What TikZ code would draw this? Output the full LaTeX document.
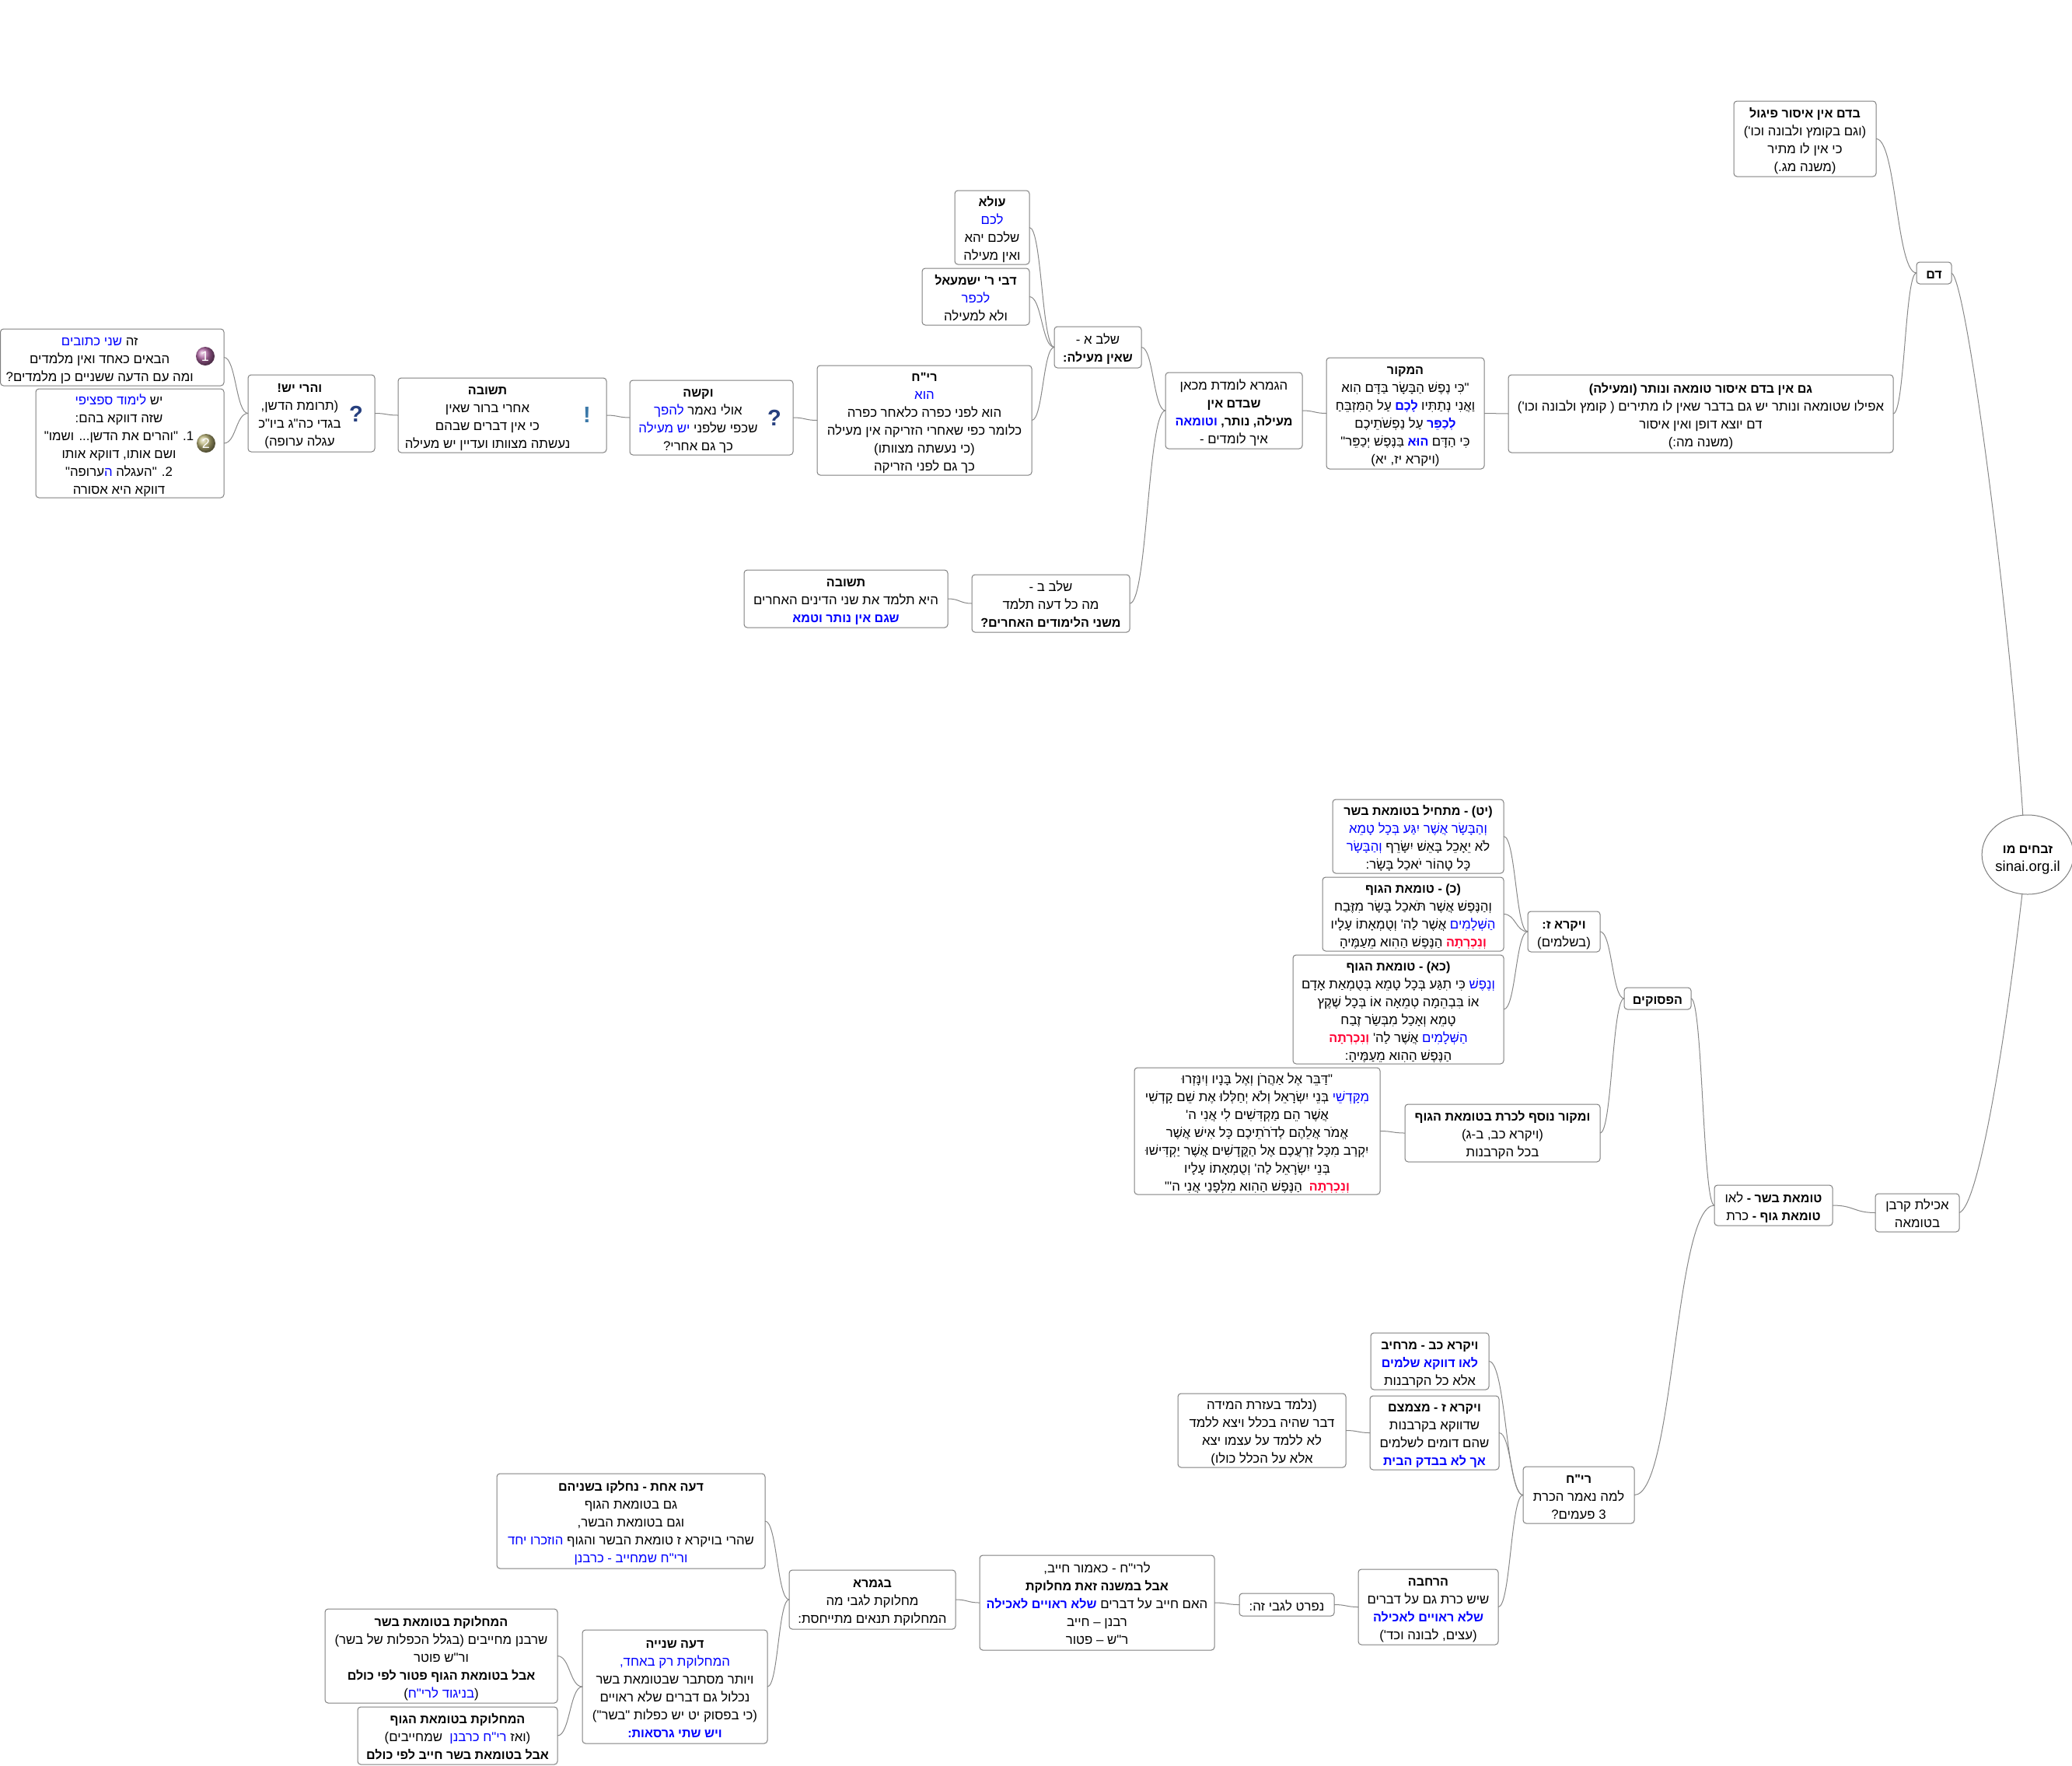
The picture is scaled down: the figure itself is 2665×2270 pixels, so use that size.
\documentclass[tikz,border=0pt]{standalone}
\usepackage{fontspec}
\usetikzlibrary{calc,shapes.geometric}
\TeXXeTstate=1
\setmainfont{Liberation Sans}
\newfontfamily\hebfont[Script=Hebrew]{Liberation Sans}
\definecolor{boxgray}{HTML}{7F7F7F}
\definecolor{linkgray}{HTML}{888888}
\definecolor{hblue}{HTML}{0000FF}
\definecolor{hred}{HTML}{FF0033}
\definecolor{dotone}{RGB}{178,104,166}
\definecolor{dottwo}{RGB}{186,180,120}
\definecolor{quesblue}{HTML}{27407F}
\definecolor{exclblue}{HTML}{3A78A8}
% text is written in visual order (left to right), one segment per colour
\newcommand{\boldsz}{\fontsize{16.1}{23}\selectfont\bfseries}
\newcommand{\hTr}[1]{\beginR#1\endR}
\newcommand{\hTb}[1]{\beginR{\boldsz#1}\endR}
\newcommand{\hBr}[1]{{\color{hblue}\beginR#1\endR}}
\newcommand{\hBb}[1]{{\color{hblue}\beginR{\boldsz#1}\endR}}
\newcommand{\hRb}[1]{{\color{hred}\beginR{\boldsz#1}\endR}}
\newcommand{\tx}[2][3]{\raisebox{-#1pt}[\height][\depth]{\begin{tabular}{@{}c@{}}#2\end{tabular}}}
\newcommand{\leftshifted}[2]{\tx{#2}\kern#1pt}
\tikzset{
  bx/.style n args={4}{draw=boxgray, line width=1pt, fill=white, rounded corners=4pt,
    inner sep=0pt, outer sep=0pt, text=black,
    font=\hebfont\fontsize{16.8}{23}\selectfont,
    minimum width={(#3-#1)*1pt}, minimum height={(#4-#2)*1pt},
    at={({(#1+#3)/2},{(#2+#4)/2})}},
  linkline/.style={draw=linkgray, line width=1pt},
  link/.style={linkline, to path={let \p1=(\tikztostart),\p2=(\tikztotarget) in
    .. controls ({(\x1+\x2)/2},\y1) and ({(\x1+\x2)/2},\y2) .. (\p2)}},
  numdot/.style={circle, shade, inner sep=0pt, minimum size=24pt, text=white,
    font=\fontsize{18}{18}\selectfont},
  mark sign/.style={inner sep=0pt, font=\fontsize{29}{29}\bfseries\selectfont}
}
\begin{document}
\begin{tikzpicture}[x=1pt,y=-1pt]
\path[use as bounding box] (0,0) rectangle (2665,2270);

% root
\node[bx={2552}{1048}{2664}{1150}, ellipse, rounded corners=0pt] (root)
  {\tx[5]{\hTb{זבחים מו}\\ {\fontsize{18.5}{23}\selectfont sinai.org.il}}};

% upper branch
\node[bx={2465}{337}{2510}{365}] (dam) {\tx{\hTb{דם}}};
\node[bx={2230}{130}{2413}{227}] (badam)
  {\tx{\hTb{בדם אין איסור פיגול}\\ \hTr{(וגם בקומץ ולבונה וכו')}\\ \hTr{כי אין לו מתיר}\\ \hTr{(משנה מג.)}}};
\node[bx={1940}{482}{2435}{582}] (gam)
  {\tx{\hTb{גם אין בדם איסור טומאה ונותר (ומעילה)}\\ \hTr{אפילו שטומאה ונותר יש גם בדבר שאין לו מתירים ( קומץ ולבונה וכו')}\\ \hTr{דם יוצא דופן ואין איסור}\\ \hTr{(משנה מה:)}}};
\node[bx={1706}{460}{1909}{603}] (makor)
  {\tx{\hTb{המקור}\\
   \hTr{"כִּי נֶפֶשׁ הַבָּשָׂר בַּדָּם הִוא}\\
   \hTr{עַל הַמִּזְבֵּחַ}\hBb{ לָכֶם }\hTr{וַאֲנִי נְתַתִּיו}\\
   \hTr{עַל נַפְשֹׁתֵיכֶם}\hBb{לְכַפֵּר }\\
   \hTr{בַּנֶּפֶשׁ יְכַפֵּר"}\hBb{ הוּא }\hTr{כִּי הַדָּם}\\
   \hTr{(ויקרא יז, יא)}}};
\node[bx={1499}{479}{1675}{577}] (gemara)
  {\tx{\hTr{הגמרא לומדת מכאן}\\ \hTb{שבדם אין}\\ \hBb{וטומאה}\hTb{מעילה, נותר, }\\ \hTr{איך לומדים -}}};
\node[bx={1356}{420}{1468}{473}] (shlava) {\tx{\hTr{שלב א -}\\ \hTb{שאין מעילה:}}};
\node[bx={1250}{739}{1453}{813}] (shlavb)
  {\tx{\hTr{שלב ב -}\\ \hTr{מה כל דעה תלמד}\\ \hTb{משני הלימודים האחרים?}}};
\node[bx={957}{733}{1219}{807}] (tshuvab)
  {\tx{\hTb{תשובה}\\ \hTr{היא תלמד את שני הדינים האחרים}\\ \hBb{שגם אין נותר וטמא}}};
\node[bx={1228}{245}{1324}{340}] (ula)
  {\tx{\hTb{עולא}\\ \hBr{לכם}\\ \hTr{שלכם יהא}\\ \hTr{ואין מעילה}}};
\node[bx={1186}{345}{1324}{418}] (dvei)
  {\tx{\hTb{דבי ר' ישמעאל}\\ \hBr{לכפר}\\ \hTr{ולא למעילה}}};
\node[bx={1051}{470}{1327}{611}] (richa)
  {\tx{\hTb{רי"ח}\\ \hBr{הוא}\\ \hTr{הוא לפני כפרה כלאחר כפרה}\\ \hTr{כלומר כפי שאחרי הזריקה אין מעילה}\\ \hTr{(כי נעשתה מצוותו)}\\ \hTr{כך גם לפני הזריקה}}};
\node[bx={810}{489}{1020}{585}] (kashe)
  {\leftshifted{34}{\hTb{וקשה}\\ \hBr{להפך}\hTr{אולי נאמר }\\ \hBr{יש מעילה}\hTr{שכפי שלפני }\\ \hTr{כך גם אחרי?}}};
\node[bx={512}{486}{780}{582}] (tshuvaa)
  {\leftshifted{38}{\hTb{תשובה}\\ \hTr{אחרי ברור שאין}\\ \hTr{כי אין דברים שבהם}\\ \hTr{נעשתה מצוותו ועדיין יש מעילה}}};
\node[bx={319}{482}{482}{581}] (harei)
  {\leftshifted{30}{\hTb{והרי יש!}\\ \hTr{(תרומת הדשן,}\\ \hTr{בגדי כה"ג ביו"כ}\\ \hTr{עגלה ערופה)}}};
\node[bx={0.5}{423}{288}{496}] (one)
  {\leftshifted{32}{\hBr{שני כתובים}\hTr{זה }\\ \hTr{הבאים כאחד ואין מלמדים}\\ \hTr{ומה עם הדעה ששניים כן מלמדים?}}};
\node[bx={46}{500}{288}{640}] (two)
  {\leftshifted{28}{\hBr{לימוד ספציפי}\hTr{יש }\\ \hTr{שזה דווקא בהם:}\\ \hTr{1. "והרים את הדשן... ושמו"}\\ \hTr{ושם אותו, דווקא אותו}\\ \hTr{ערופה"}\hBr{ה}\hTr{2. "העגלה }\\ \hTr{דווקא היא אסורה}}};

% icons
\node[numdot, ball color=dotone] (icona) at (264,458) {1};
\node[numdot, ball color=dottwo] (iconb) at (265,570) {2};
\node[mark sign, text=quesblue] (iconq) at (458,532) {?};
\node[mark sign, text=quesblue] (iconk) at (996,537) {?};
\node[mark sign, text=exclblue] (icone) at (755,534) {!};

% lower branch
\node[bx={2412}{1535}{2520}{1584}] (akilat) {\tx{\hTr{אכילת קרבן}\\ \hTr{בטומאה}}};
\node[bx={2205}{1524}{2357}{1576}] (tum)
  {\tx{\hTr{לאו}\hTb{טומאת בשר - }\\ \hTr{כרת}\hTb{טומאת גוף - }}};
\node[bx={2089}{1270}{2175}{1298}] (psukim) {\tx{\hTb{הפסוקים}}};
\node[bx={1965}{1172}{2058}{1224}] (vayikra) {\tx{\hTb{ויקרא ז:}\\ \hTr{(בשלמים)}}};
\node[bx={1714}{1028}{1934}{1123}] (yt)
  {\tx{\hTb{(יט) - מתחיל בטומאת בשר}\\
   \hBr{וְהַבָּשָׂר אֲשֶׁר יִגַּע בְּכָל טָמֵא}\\
   \hBr{וְהַבָּשָׂר}\hTr{לֹא יֵאָכֵל בָּאֵשׁ יִשָּׂרֵף }\\
   \hTr{כָּל טָהוֹר יֹאכַל בָּשָׂר:}}};
\node[bx={1701}{1128}{1934}{1223}] (kaf)
  {\tx{\hTb{(כ) - טומאת הגוף}\\
   \hTr{וְהַנֶּפֶשׁ אֲשֶׁר תֹּאכַל בָּשָׂר מִזֶּבַח}\\
   \hTr{אֲשֶׁר לַה' וְטֻמְאָתוֹ עָלָיו}\hBr{הַשְּׁלָמִים }\\
   \hTr{הַנֶּפֶשׁ הַהִוא מֵעַמֶּיהָ}\hRb{וְנִכְרְתָה }}};
\node[bx={1663}{1228}{1934}{1368}] (kaa)
  {\tx{\hTb{(כא) - טומאת הגוף}\\
   \hTr{כִּי תִגַּע בְּכָל טָמֵא בְּטֻמְאַת אָדָם}\hBr{וְנֶפֶשׁ }\\
   \hTr{אוֹ בִּבְהֵמָה טְמֵאָה אוֹ בְּכָל שֶׁקֶץ}\\
   \hTr{טָמֵא וְאָכַל מִבְּשַׂר זֶבַח}\\
   \hRb{וְנִכְרְתָה}\hTr{ אֲשֶׁר לַה' }\hBr{הַשְּׁלָמִים}\\
   \hTr{הַנֶּפֶשׁ הַהִוא מֵעַמֶּיהָ:}}};
\node[bx={1807}{1420}{2058}{1494}] (umakor)
  {\tx{\hTb{ומקור נוסף לכרת בטומאת הגוף}\\ \hTr{(ויקרא כב, ב-ג)}\\ \hTr{בכל הקרבנות}}};
\node[bx={1459}{1373}{1775}{1536}] (daber)
  {\tx{\hTr{"דַּבֵּר אֶל אַהֲרֹן וְאֶל בָּנָיו וְיִנָּזְרוּ}\\
   \hTr{בְּנֵי יִשְׂרָאֵל וְלֹא יְחַלְּלוּ אֶת שֵׁם קָדְשִׁי}\hBr{מִקָּדְשֵׁי }\\
   \hTr{אֲשֶׁר הֵם מַקְדִּשִׁים לִי אֲנִי ה'}\\
   \hTr{אֱמֹר אֲלֵהֶם לְדֹרֹתֵיכֶם כָּל אִישׁ אֲשֶׁר}\\
   \hTr{יִקְרַב מִכָּל זַרְעֲכֶם אֶל הַקֳּדָשִׁים אֲשֶׁר יַקְדִּישׁוּ}\\
   \hTr{בְּנֵי יִשְׂרָאֵל לַה' וְטֻמְאָתוֹ עָלָיו}\\
   \hTr{הַנֶּפֶשׁ הַהִוא מִלְּפָנַי אֲנִי ה'"}\hRb{וְנִכְרְתָה\ \ }}};
\node[bx={1959}{1886}{2102}{1959}] (richb)
  {\tx{\hTb{רי"ח}\\ \hTr{למה נאמר הכרת}\\ \hTr{3 פעמים?}}};
\node[bx={1763}{1714}{1915}{1787}] (marchiv)
  {\tx{\hTb{ויקרא כב - מרחיב}\\ \hBb{לאו דווקא שלמים}\\ \hTr{אלא כל הקרבנות}}};
\node[bx={1762}{1795}{1928}{1890}] (metzamtzem)
  {\tx{\hTb{ויקרא ז - מצמצם}\\ \hTr{שדווקא בקרבנות}\\ \hTr{שהם דומים לשלמים}\\ \hBb{אך לא בבדק הבית}}};
\node[bx={1515}{1792}{1731}{1887}] (nilmad)
  {\tx{\hTr{(נלמד בעזרת המידה}\\ \hTr{דבר שהיה בכלל ויצא ללמד}\\ \hTr{לא ללמד על עצמו יצא}\\ \hTr{אלא על הכלל כולו)}}};
\node[bx={1747}{2018}{1927}{2115}] (harchava)
  {\tx{\hTb{הרחבה}\\ \hTr{שיש כרת גם על דברים}\\ \hBb{שלא ראויים לאכילה}\\ \hTr{(עצים, לבונה וכד')}}};
\node[bx={1594}{2049}{1716}{2078}] (nifrat) {\tx{\hTr{נפרט לגבי זה:}}};
\node[bx={1260}{2000}{1562}{2122}] (lerich)
  {\tx{\hTr{לרי"ח - כאמור חייב,}\\ \hTb{אבל במשנה זאת מחלוקת}\\ \hBb{שלא ראויים לאכילה}\hTr{האם חייב על דברים }\\ \hTr{רבנן – חייב}\\ \hTr{ר"ש – פטור}}};
\node[bx={1015}{2019}{1229}{2095}] (bagemara)
  {\tx{\hTb{בגמרא}\\ \hTr{מחלוקת לגבי מה}\\ \hTr{המחלוקת תנאים מתייחסת:}}};
\node[bx={639}{1895}{984}{2017}] (daata)
  {\tx{\hTb{דעה אחת - נחלקו בשניהם}\\ \hTr{גם בטומאת הגוף}\\ \hTr{וגם בטומאת הבשר,}\\ \hBr{הוזכרו יחד}\hTr{שהרי בויקרא ז טומאת הבשר והגוף }\\ \hBr{ורי"ח שמחייב - כרבנן}}};
\node[bx={749}{2096}{987}{2242}] (daatb)
  {\tx{\hTb{דעה שנייה}\\ \hBr{המחלוקת רק באחד,}\\ \hTr{ויותר מסתבר שבטומאת בשר}\\ \hTr{נכלול גם דברים שלא ראויים}\\ \hTr{(כי בפסוק יט יש כפלות "בשר")}\\ \hBb{ויש שתי גרסאות:}}};
\node[bx={418}{2069}{717}{2190}] (machb)
  {\tx{\hTb{המחלוקת בטומאת בשר}\\ \hTr{שרבנן מחייבים (בגלל הכפלות של בשר)}\\ \hTr{ור"ש פוטר}\\ \hTb{אבל בטומאת הגוף פטור לפי כולם}\\ \hTr{)}\hBr{בניגוד לרי"ח}\hTr{(}}};
\node[bx={460}{2195}{717}{2269}] (machg)
  {\tx{\hTb{המחלוקת בטומאת הגוף}\\ \hTr{שמחייבים)}\hBr{ רי"ח כרבנן\ \ }\hTr{(ואז}\\ \hTb{אבל בטומאת בשר חייב לפי כולם}}};

% connectors
\draw[linkline] (dam.east) .. controls +(20,9) and ($(root.97)+(-16,-248)$) .. (root.97);
\draw[linkline] (akilat.east) .. controls +(25,-9) and ($(root.262)+(-22,191)$) .. (root.262);
\draw[link] (badam.east) to (dam.west);
\draw[link] (gam.east) to (dam.west);
\draw[link] (makor.east) to (gam.west);
\draw[link] (gemara.east) to (makor.west);
\draw[link] (shlava.east) to (gemara.west);
\draw[link] (shlavb.east) to (gemara.west);
\draw[link] (tshuvab.east) to (shlavb.west);
\draw[link] (ula.east) to (shlava.west);
\draw[link] (dvei.east) to (shlava.west);
\draw[link] (richa.east) to (shlava.west);
\draw[link] (kashe.east) to (richa.west);
\draw[link] (tshuvaa.east) to (kashe.west);
\draw[link] (harei.east) to (tshuvaa.west);
\draw[link] (one.east) to (harei.west);
\draw[link] (two.east) to (harei.west);
\draw[link] (tum.east) to (akilat.west);
\draw[link] (psukim.east) to (tum.west);
\draw[link] (richb.east) to (tum.west);
\draw[link] (vayikra.east) to (psukim.west);
\draw[link] (umakor.east) to (psukim.west);
\draw[link] (yt.east) to (vayikra.west);
\draw[link] (kaf.east) to (vayikra.west);
\draw[link] (kaa.east) to (vayikra.west);
\draw[link] (daber.east) to (umakor.west);
\draw[link] (marchiv.east) to (richb.west);
\draw[link] (metzamtzem.east) to (richb.west);
\draw[link] (harchava.east) to (richb.west);
\draw[link] (nilmad.east) to (metzamtzem.west);
\draw[link] (nifrat.east) to (harchava.west);
\draw[link] (lerich.east) to (nifrat.west);
\draw[link] (bagemara.east) to (lerich.west);
\draw[link] (daata.east) to (bagemara.west);
\draw[link] (daatb.east) to (bagemara.west);
\draw[link] (machb.east) to (daatb.west);
\draw[link] (machg.east) to (daatb.west);
\end{tikzpicture}
\end{document}
